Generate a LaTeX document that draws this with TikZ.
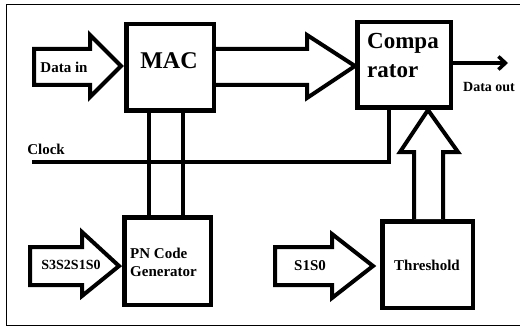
\documentclass[tikz,border=0pt]{standalone}
\usepackage{fontspec}
\setmainfont{Liberation Serif}
\usetikzlibrary{arrows.meta,calc}
\tikzset{
  blk/.style={draw, line width=4.5pt, fill=white, minimum width=87pt, minimum height=86pt, inner sep=0pt},
  barrow/.style={draw, line width=4pt, line join=miter, fill=white},
  wire/.style={draw, line width=3.8pt},
  lbl/.style={font=\fontsize{14}{15}\selectfont\bfseries, inner sep=0pt},
  big/.style={font=\fontsize{24}{26}\selectfont\bfseries, inner sep=0pt},
  frame/.style={draw, line width=1.5pt}
}
\begin{document}
\begin{tikzpicture}[x=1pt,y=-1pt]
\useasboundingbox (0,0) rectangle (520,329);
\fill[white] (0,0) rectangle (520,329);
\draw[frame] (521,4.5) -- (6.5,4.5) -- (6.5,325.5) -- (521,325.5);

% boxes
\node[blk, minimum width=87.5pt, minimum height=86.5pt] (mac) at (170,67.5) {};
\node[blk, minimum width=93.5pt, minimum height=85.5pt] (cmp) at (404,65) {};
\node[blk, minimum width=86.5pt, minimum height=87.5pt] (pn) at (167.5,261) {};
\node[blk, minimum width=90.5pt, minimum height=86.5pt] (thr) at (427.5,264.5) {};

% texts in boxes
\node[big] (mactxt) at (169,61) {MAC};
\node[big, font=\fontsize{23}{25}\selectfont\bfseries, anchor=west] (cmp1) at (367,43) {Compa};
\node[big, font=\fontsize{23}{25}\selectfont\bfseries, anchor=west] (cmp2) at (367,71) {rator};
\node[lbl, font=\fontsize{15}{16}\selectfont\bfseries, anchor=west] (pn1) at (130,253) {PN Code};
\node[lbl, font=\fontsize{15}{16}\selectfont\bfseries, anchor=west] (pn2) at (130,272) {Generator};
\node[lbl, font=\fontsize{15}{16}\selectfont\bfseries] (thrtxt) at (427,265) {Threshold};

% block arrows
\draw[barrow] (34,49) -- (90,49) -- (90,35) -- (121,66) -- (90,97) -- (90,85) -- (34,85) -- cycle;
\node[lbl, font=\fontsize{15}{16}\selectfont\bfseries] (din) at (64,67) {Data in};

\draw[barrow] (mac.east |- 0,49) -- (307,49) -- (307,35) -- (cmp.west |- 0,66) -- (307,98) -- (307,85) -- (mac.east |- 0,85);

\draw[barrow] (30,247) -- (82,247) -- (82,232) -- (119,266) -- (82,296) -- (82,285) -- (30,285) -- cycle;
\node[lbl, font=\fontsize{14}{15}\selectfont\bfseries] (s3) at (71,265) {S3S2S1S0};

\draw[barrow] (275,247) -- (332,247) -- (332,234) -- (373,266) -- (332,298) -- (332,285) -- (275,285) -- cycle;
\node[lbl, font=\fontsize{15}{16}\selectfont\bfseries] (s1) at (310,266) {S1S0};

\draw[barrow] (414,0 |- thr.north) -- (414,152) -- (400,152) -- (428,0 |- cmp.south) -- (458,152) -- (443,152) -- (443,0 |- thr.north);

% MAC - PN links
\draw[wire] (149,0 |- mac.south) -- (149,0 |- pn.north);
\draw[wire] (183,0 |- mac.south) -- (183,0 |- pn.north);

% clock
\coordinate (clk) at (32,162);
\draw[wire] (clk) -- (389,162) -- (389,0 |- cmp.south);
\node[lbl, font=\fontsize{15}{16}\selectfont\bfseries] (clktxt) at (46,149) {Clock};

% data out
\coordinate (dout) at (508,63);
\draw[line width=3.5pt, -{Straight Barb[length=7pt,width=13pt]}] (cmp.east |- 0,63) -- (dout);
\node[lbl, font=\fontsize{14}{15}\selectfont\bfseries] (douttxt) at (489,87) {Data out};
\end{tikzpicture}
\end{document}
